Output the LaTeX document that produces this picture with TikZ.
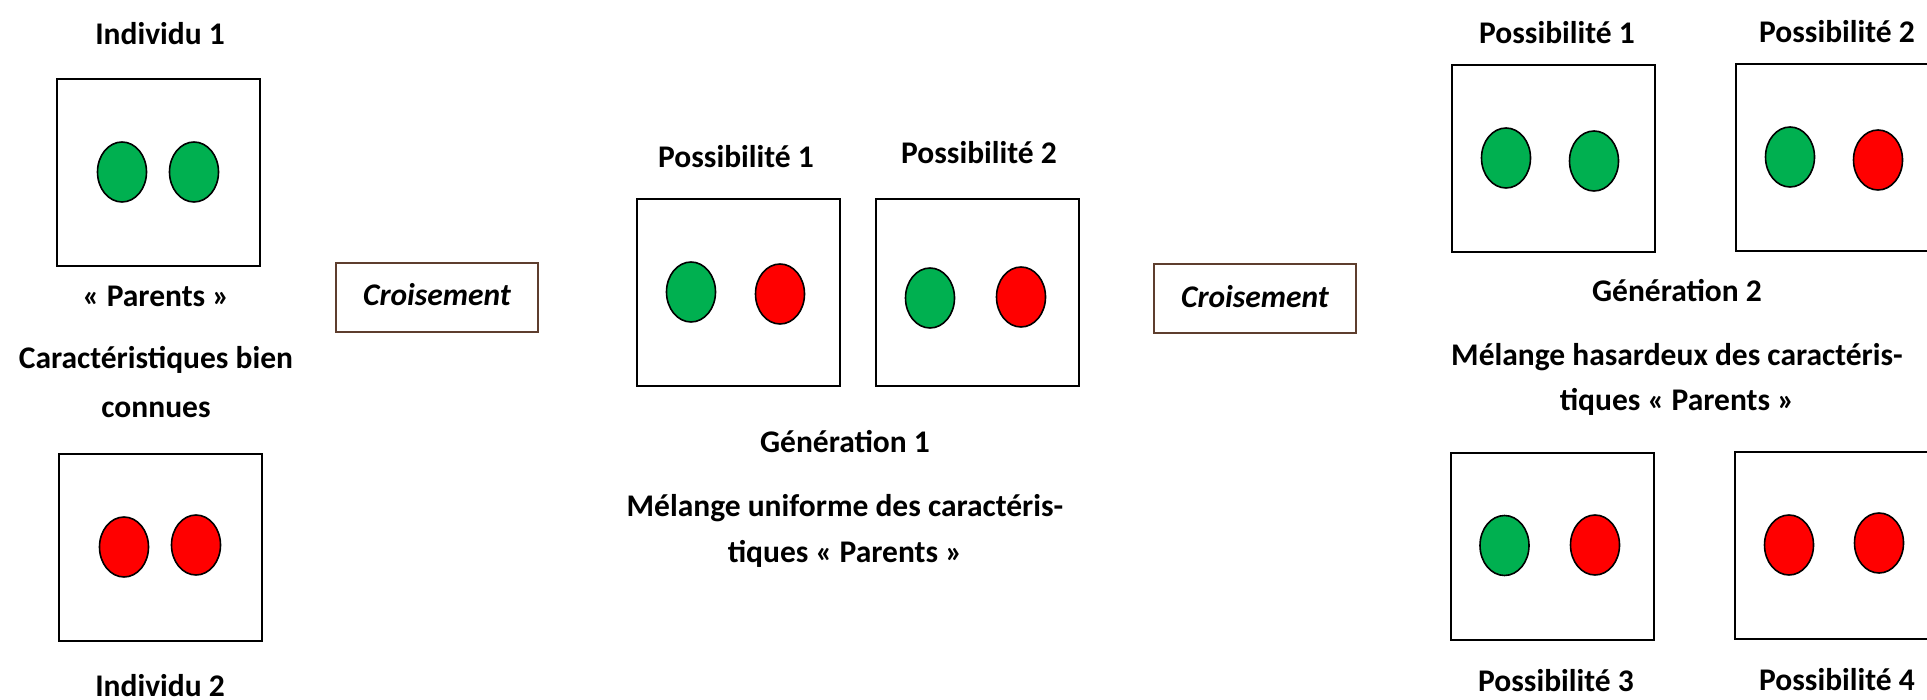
\documentclass[tikz,border=0pt]{standalone}
\usepackage{fontspec}
\setmainfont{Carlito}
\usetikzlibrary{shapes.geometric}
\definecolor{gr}{HTML}{00B050}
\definecolor{rd}{HTML}{FF0000}
\definecolor{brn}{RGB}{94,62,46}
\begin{document}
\begin{tikzpicture}[x=1pt,y=-1pt,
 lbl/.style={anchor=base,inner sep=0pt,font=\fontsize{31.5}{37}\selectfont\bfseries},
 cell/.style={draw=black,line width=2pt,minimum width=203pt,minimum height=187pt,inner sep=0pt},
 gbead/.style={ellipse,draw=black,line width=1.6pt,fill=gr,minimum width=49pt,minimum height=60pt,inner sep=0pt},
 rbead/.style={gbead,fill=rd},
 cross/.style={draw=brn,line width=2pt,minimum width=202pt,minimum height=69pt,inner sep=0pt,text depth=6pt,font=\fontsize{31.5}{37}\selectfont\bfseries\itshape}]
\useasboundingbox (0,0) rectangle (1927,700);
\fill[white] (0,0) rectangle (1927,700);

% Parents
\node[cell] (ind1) at (158.5,173) {};
\node[gbead] (ind1a) at (122,172) {};
\node[gbead] (ind1b) at (194,172) {};
\node[cell] (ind2) at (160.5,547.5) {};
\node[rbead] (ind2a) at (124,547) {};
\node[rbead] (ind2b) at (196,545) {};
\node[lbl] (tind1) at (160,45) {Individu 1};
\node[lbl] (tpar) at (156,307) {« Parents »};
\node[lbl] (tcar1) at (156,369) {Caractéristiques bien};
\node[lbl] (tcar2) at (156,417) {connues};
\node[lbl] (tind2) at (160,696) {Individu 2};

% Croisements
\node[cross] (cr1) at (437,297.5) {Croisement};
\node[cross] (cr2) at (1255,299) {Croisement};

% Generation 1
\node[cell] (g1p1) at (738.5,292.5) {};
\node[gbead] (g1p1a) at (691,292) {};
\node[rbead] (g1p1b) at (780,294) {};
\node[cell] (g1p2) at (977.5,292.5) {};
\node[gbead] (g1p2a) at (930,298) {};
\node[rbead] (g1p2b) at (1021,297) {};
\node[lbl] (tg1p1) at (736,168) {Possibilité 1};
\node[lbl] (tg1p2) at (979,164) {Possibilité 2};
\node[lbl] (tgen1) at (845,452) {Génération 1};
\node[lbl] (tmel1a) at (845,516) {Mélange uniforme des caractéris-};
\node[lbl] (tmel1b) at (845,562) {tiques « Parents »};

% Generation 2
\node[cell] (g2p1) at (1553,159) {};
\node[gbead] (g2p1a) at (1506,158) {};
\node[gbead] (g2p1b) at (1594,161) {};
\node[cell] (g2p2) at (1837,158) {};
\node[gbead] (g2p2a) at (1790,157) {};
\node[rbead] (g2p2b) at (1878,160) {};
\node[cell] (g2p3) at (1552,546.5) {};
\node[gbead] (g2p3a) at (1504.5,545.5) {};
\node[rbead] (g2p3b) at (1595,545) {};
\node[cell] (g2p4) at (1836,545) {};
\node[rbead] (g2p4a) at (1789,545) {};
\node[rbead] (g2p4b) at (1879,543) {};
\node[lbl] (tg2p1) at (1557,43.5) {Possibilité 1};
\node[lbl] (tg2p2) at (1837,43) {Possibilité 2};
\node[lbl] (tgen2) at (1677,301.5) {Génération 2};
\node[lbl] (tmel2a) at (1677,366) {Mélange hasardeux des caractéris-};
\node[lbl] (tmel2b) at (1677,410) {tiques « Parents »};
\node[lbl] (tg2p3) at (1556,691) {Possibilité 3};
\node[lbl] (tg2p4) at (1837,690) {Possibilité 4};
\end{tikzpicture}
\end{document}
